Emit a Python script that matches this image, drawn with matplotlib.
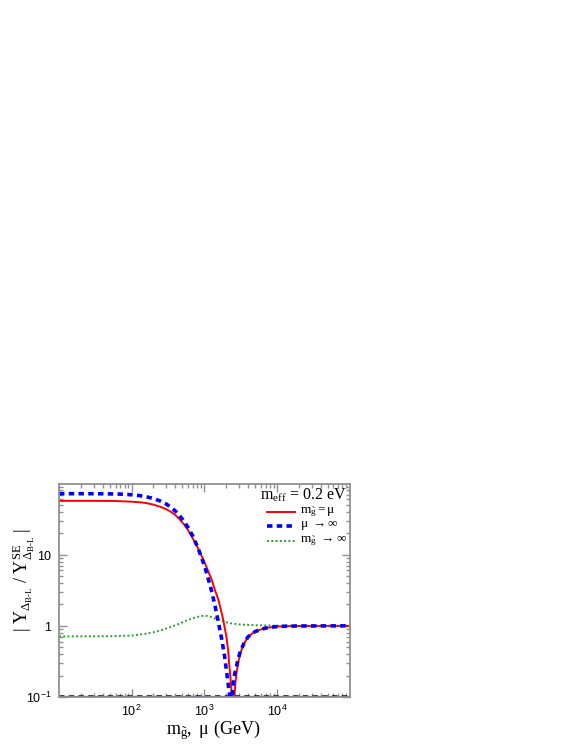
import numpy as np
import matplotlib
matplotlib.use("Agg")
import matplotlib.pyplot as plt
from matplotlib.lines import Line2D
from matplotlib.ticker import FixedLocator, FixedFormatter, LogLocator, NullFormatter

plt.rcParams['mathtext.fontset'] = 'custom'
plt.rcParams['mathtext.rm'] = 'Liberation Serif'
plt.rcParams['mathtext.it'] = 'Liberation Serif'
plt.rcParams['mathtext.bf'] = 'Liberation Serif:bold'
plt.rcParams['mathtext.sf'] = 'Liberation Sans'
plt.rcParams['font.family'] = ['Liberation Serif', 'DejaVu Sans']

# ---- data ----
x_equal = [10, 30, 60, 100, 130, 160, 200, 250, 300, 355, 400, 450, 520, 600, 706, 800, 922,
           1000, 1100, 1260, 1400, 1570, 1700, 1820, 1950, 2040, 2130, 2220, 2300, 2350,
           2400, 2450,
           2550, 2600, 2700, 2800, 2950, 3100, 3300, 3500, 3750, 4000, 4500, 5000, 6000,
           7000, 8000, 10000, 14000, 20000, 100000]
y_equal = [57, 57, 56.8, 55.5, 54.5, 53, 50.5, 47, 43.5, 39.5, 36, 32, 27, 22, 16.5, 13, 9.5,
           8.0, 6.3, 4.5, 3.2, 2.3, 1.65, 1.23, 0.85, 0.65, 0.45, 0.27, 0.18, 0.14,
           0.1, 0.05,
           0.05, 0.1, 0.17, 0.23, 0.31, 0.39, 0.48, 0.55, 0.63, 0.70, 0.77, 0.83, 0.89,
           0.93, 0.95, 0.975, 0.99, 0.995, 1.0]

x_mu_inf = [10, 40, 70, 100, 130, 160, 200, 250, 300, 355, 400, 450, 520, 600, 700, 830,
            980, 1080, 1250, 1410, 1600, 1740, 1900, 2040, 2200, 2270, 2300,
            2380, 2450, 2520, 2600, 2700, 2800, 2950, 3100, 3300, 3500, 3750, 4000, 4500,
            5000, 6000, 7000, 8000, 10000, 14000, 20000, 100000]
y_mu_inf = [72, 71.8, 71, 69.5, 67.5, 65, 61.5, 56.5, 51.5, 45.5, 41, 36, 30, 24, 18, 12,
            7.5, 5.5, 3.2, 1.9, 1.0, 0.65, 0.38, 0.22, 0.12, 0.1, 0.06,
            0.06, 0.12, 0.16, 0.20, 0.24, 0.28, 0.35, 0.42, 0.49, 0.56, 0.63, 0.70, 0.77,
            0.83, 0.89, 0.93, 0.95, 0.975, 0.99, 0.995, 1.0]

x_mg_inf = [10, 50, 100, 150, 210, 260, 300, 355, 410, 466, 530, 600, 700, 800, 900, 1000,
            1120, 1250, 1400, 1570, 1820, 2100, 2400, 2950, 4000, 6000, 10000, 100000]
y_mg_inf = [0.71, 0.715, 0.73, 0.77, 0.82, 0.87, 0.92, 0.975, 1.03, 1.08, 1.15, 1.21, 1.28,
            1.33, 1.37, 1.39, 1.37, 1.33, 1.27, 1.22, 1.15, 1.11, 1.08, 1.05, 1.03, 1.015,
            1.005, 1.0]

x_ticks = [100, 1000, 10000]
x_ticklabels = [r'$\mathsf{10^{2}}$', r'$\mathsf{10^{3}}$', r'$\mathsf{10^{4}}$']
y_ticks = [0.1, 1, 10]
y_ticklabels = [r'$\mathsf{10^{-1}}$', r'$\mathsf{1}$', r'$\mathsf{10}$']

legend_labels = [r'$\mathrm{m}_{\tilde{g}} = \mu$',
                 r'$\mu\ \rightarrow \infty$',
                 r'$\mathrm{m}_{\tilde{g}}\ \rightarrow \infty$']
header = r'$\mathrm{m_{eff}}$ = 0.2 eV'

RED = '#ff0000'
BLUE = '#0000ff'
GREEN = '#2e9e2e'
GRAY = '#909090'

W, H = 581, 752
fig = plt.figure(figsize=(W / 100, H / 100), dpi=100)
ax = fig.add_axes([59 / W, 1 - 697 / H, (349.5 - 59) / W, (697 - 483.5) / H])
ax.set_xscale('log')
ax.set_yscale('log')
ax.set_xlim(10, 1e5)
ax.set_ylim(0.1, 100)

# artefact lines along the lower frame (curves clipped at the bottom)
ax.axhline(0.1, color=RED, lw=1.6, zorder=2)
ax.axhline(0.1, color=BLUE, lw=2.6, ls=(0, (1.5, 1.2)), zorder=2)

ax.plot(x_mg_inf, y_mg_inf, color=GREEN, lw=1.4, ls=(0, (1, 1.2)), zorder=3)
ax.plot(x_equal, y_equal, color=RED, lw=1.4, zorder=3)
ax.plot(x_mu_inf, y_mu_inf, color=BLUE, lw=2.6, ls=(0, (1.5, 1.2)), zorder=4)

# axes styling (ROOT like)
for s in ax.spines.values():
    s.set_color(GRAY)
    s.set_linewidth(1.3)
    s.set_zorder(5)
ax.tick_params(which='both', direction='in', top=True, right=True, colors=GRAY,
               labelcolor='black', width=1.0)
ax.tick_params(which='major', length=6.0)
ax.tick_params(which='minor', length=3.0)
ax.tick_params(axis='x', which='major', pad=5, labelsize=9)
ax.tick_params(axis='y', which='major', pad=5, labelsize=9)

ax.xaxis.set_major_locator(FixedLocator(x_ticks))
ax.xaxis.set_major_formatter(FixedFormatter(x_ticklabels))
ax.xaxis.set_minor_locator(LogLocator(base=10, subs=np.arange(2, 10), numticks=20))
ax.xaxis.set_minor_formatter(NullFormatter())
ax.yaxis.set_major_locator(FixedLocator(y_ticks))
ax.yaxis.set_major_formatter(FixedFormatter(y_ticklabels))
ax.yaxis.set_minor_locator(LogLocator(base=10, subs=np.arange(2, 10), numticks=20))
ax.yaxis.set_minor_formatter(NullFormatter())

# axis titles placed like the reference
fig.text(213 / W, 1 - 730 / H, r'$\mathrm{m}_{\tilde{g}},\ \mu\ \mathrm{(GeV)}$',
         ha='center', va='center', fontsize=13)
fig.text(24 / W, 1 - 580 / H,
         r'$|\ \mathrm{Y}_{\Delta_{\text{B-L}}}\ /\ \mathrm{Y}^{\mathrm{SE}}_{\Delta_{\text{B-L}}}\ |$',
         ha='center', va='center', rotation=90, fontsize=13)

# header and legend
ax.text(0.991, 0.946, header, transform=ax.transAxes, ha='right', va='center', fontsize=11.5)
leg_y = [0.866, 0.801, 0.731]
leg_styles = [dict(color=RED, lw=1.4),
              dict(color=BLUE, lw=2.6, ls=(0, (1.5, 1.2))),
              dict(color=GREEN, lw=1.4, ls=(0, (1, 1.2)))]
for yy, lab, st in zip(leg_y, legend_labels, leg_styles):
    ax.add_line(Line2D([0.715, 0.812], [yy, yy], transform=ax.transAxes, **st))
    ax.text(0.83, yy, lab, transform=ax.transAxes, ha='left', va='center', fontsize=9.5)

fig.savefig('out.png', dpi=100)
